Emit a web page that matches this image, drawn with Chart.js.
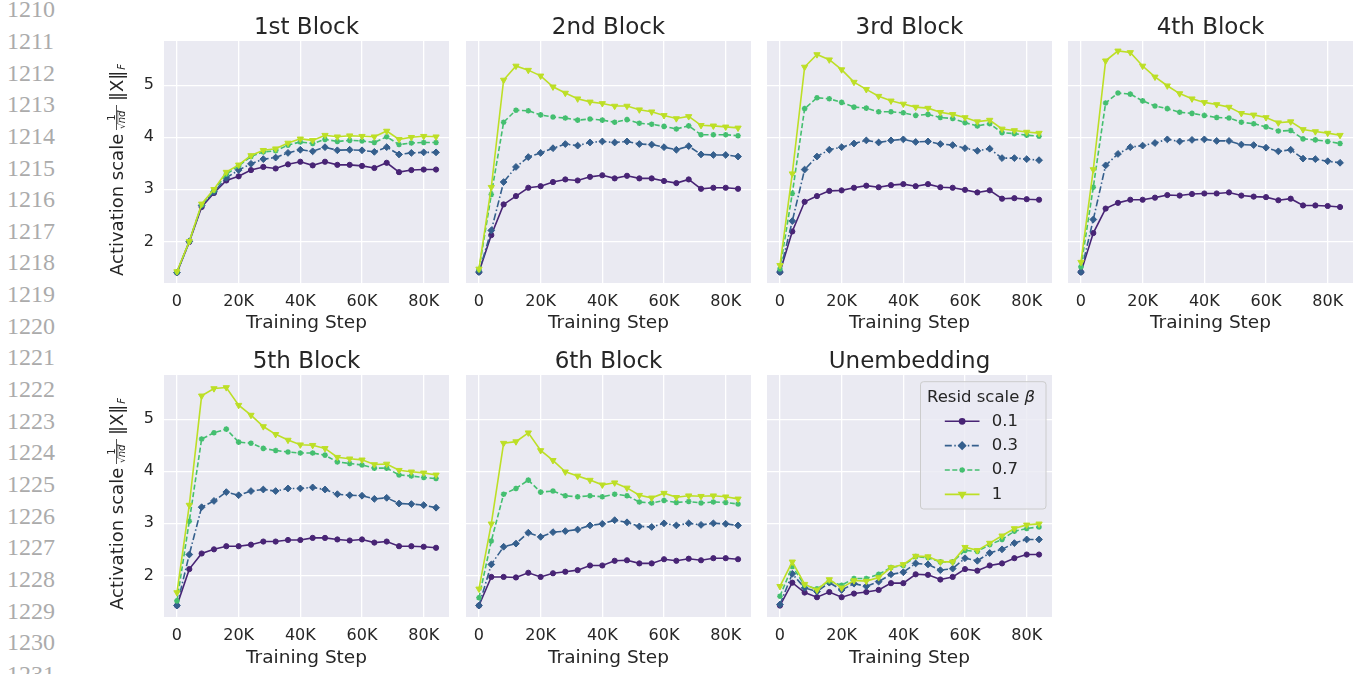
<!DOCTYPE html>
<html>
<head>
<meta charset="utf-8">
<script src="https://cdn.jsdelivr.net/npm/chart.js@4.4.1/dist/chart.umd.min.js"></script>
<style>
  body { margin: 0; background: #fff; width: 1361px; height: 674px; overflow: hidden; position: relative; }
  canvas { position: absolute; }
  .ln { position: absolute; left: 7px; font-family: 'Liberation Serif', serif; font-size: 24px; line-height: 24px; color: #ababab; }
</style>
</head>
<body>
<div id="lineNumbers"></div>
<canvas id="p0"></canvas>
<canvas id="p1"></canvas>
<canvas id="p2"></canvas>
<canvas id="p3"></canvas>
<canvas id="p4"></canvas>
<canvas id="p5"></canvas>
<canvas id="p6"></canvas>
<script>
// training steps (x) and tick labels
const steps = [0, 4000, 8000, 12000, 16000, 20000, 24000, 28000, 32000, 36000, 40000,
               44000, 48000, 52000, 56000, 60000, 64000, 68000, 72000, 76000, 80000, 84000];
const xTickValues = [0, 20000, 40000, 60000, 80000];
const xTickLabels = ['0', '20K', '40K', '60K', '80K'];
const yTickValues = [2, 3, 4, 5];
const betaLabels = ['0.1', '0.3', '0.7', '1'];
const panelTitles = ['1st Block', '2nd Block', '3rd Block', '4th Block', '5th Block', '6th Block', 'Unembedding'];

// activation scale per panel, one row per beta (0.1, 0.3, 0.7, 1)
const block1 = [
  [1.40,1.99,2.66,2.93,3.17,3.25,3.37,3.43,3.40,3.48,3.53,3.46,3.53,3.47,3.47,3.45,3.41,3.51,3.33,3.37,3.38,3.38],
  [1.40,2.00,2.69,2.95,3.22,3.37,3.49,3.58,3.61,3.70,3.76,3.73,3.81,3.75,3.76,3.75,3.72,3.81,3.67,3.70,3.71,3.71],
  [1.41,2.00,2.70,2.98,3.29,3.45,3.63,3.72,3.74,3.85,3.91,3.88,3.96,3.92,3.94,3.93,3.90,4.01,3.86,3.89,3.90,3.90],
  [1.42,2.00,2.72,3.00,3.33,3.47,3.65,3.75,3.78,3.89,3.97,3.94,4.04,4.01,4.03,4.02,4.01,4.12,3.96,4.00,4.02,4.01]
];
const block2 = [
  [1.41,2.12,2.71,2.87,3.03,3.06,3.14,3.19,3.17,3.24,3.27,3.21,3.26,3.21,3.21,3.16,3.12,3.19,3.01,3.03,3.03,3.01],
  [1.41,2.21,3.14,3.43,3.62,3.70,3.79,3.87,3.84,3.90,3.92,3.90,3.92,3.87,3.86,3.81,3.76,3.83,3.67,3.66,3.66,3.63],
  [1.46,2.90,4.29,4.52,4.51,4.43,4.39,4.37,4.33,4.35,4.33,4.29,4.34,4.27,4.25,4.21,4.16,4.22,4.05,4.05,4.05,4.03],
  [1.47,3.04,5.10,5.37,5.29,5.18,4.97,4.85,4.74,4.68,4.65,4.60,4.60,4.53,4.49,4.42,4.36,4.40,4.23,4.22,4.20,4.18]
];
const block3 = [
  [1.41,2.19,2.76,2.87,2.97,2.98,3.03,3.07,3.04,3.08,3.10,3.06,3.10,3.04,3.03,2.99,2.94,2.98,2.82,2.83,2.81,2.80],
  [1.41,2.39,3.38,3.63,3.76,3.81,3.88,3.94,3.90,3.94,3.96,3.91,3.92,3.87,3.85,3.79,3.74,3.78,3.60,3.60,3.58,3.56],
  [1.47,2.92,4.55,4.76,4.74,4.67,4.58,4.56,4.49,4.49,4.47,4.42,4.44,4.38,4.36,4.28,4.22,4.26,4.09,4.07,4.04,4.02],
  [1.54,3.30,5.35,5.59,5.49,5.30,5.06,4.92,4.79,4.70,4.64,4.58,4.56,4.48,4.44,4.38,4.30,4.33,4.16,4.13,4.10,4.08]
];
const block4 = [
  [1.41,2.16,2.63,2.74,2.80,2.80,2.84,2.89,2.88,2.91,2.92,2.92,2.94,2.88,2.86,2.85,2.79,2.82,2.69,2.69,2.68,2.66],
  [1.41,2.42,3.46,3.68,3.81,3.84,3.89,3.96,3.92,3.95,3.96,3.93,3.93,3.86,3.85,3.80,3.73,3.76,3.59,3.58,3.54,3.51],
  [1.51,3.04,4.66,4.85,4.83,4.70,4.60,4.55,4.48,4.46,4.42,4.38,4.37,4.29,4.26,4.20,4.12,4.13,3.97,3.95,3.92,3.88],
  [1.60,3.38,5.47,5.66,5.63,5.37,5.16,4.99,4.84,4.74,4.67,4.63,4.58,4.46,4.43,4.38,4.28,4.30,4.15,4.11,4.08,4.04]
];
const block5 = [
  [1.42,2.12,2.42,2.50,2.56,2.56,2.59,2.65,2.65,2.68,2.68,2.72,2.72,2.69,2.67,2.69,2.63,2.65,2.56,2.56,2.55,2.53],
  [1.42,2.40,3.31,3.43,3.60,3.54,3.62,3.65,3.62,3.67,3.67,3.69,3.65,3.56,3.54,3.53,3.47,3.49,3.38,3.37,3.35,3.30],
  [1.51,3.04,4.62,4.74,4.81,4.56,4.54,4.44,4.40,4.37,4.35,4.35,4.31,4.18,4.15,4.12,4.06,4.06,3.93,3.91,3.88,3.86],
  [1.67,3.35,5.45,5.59,5.61,5.27,5.08,4.86,4.71,4.60,4.51,4.50,4.44,4.27,4.24,4.22,4.13,4.14,4.02,3.99,3.97,3.93]
];
const block6 = [
  [1.42,1.97,1.97,1.96,2.05,1.97,2.04,2.07,2.10,2.19,2.19,2.28,2.29,2.23,2.23,2.31,2.28,2.32,2.29,2.33,2.33,2.31],
  [1.42,2.21,2.55,2.61,2.82,2.74,2.83,2.85,2.88,2.96,2.99,3.06,3.02,2.94,2.93,3.00,2.96,3.00,2.97,3.00,2.99,2.96],
  [1.57,2.66,3.56,3.67,3.83,3.60,3.62,3.53,3.51,3.53,3.51,3.56,3.53,3.41,3.39,3.44,3.40,3.42,3.39,3.41,3.40,3.37],
  [1.74,2.99,4.54,4.57,4.74,4.40,4.21,3.99,3.91,3.83,3.74,3.78,3.68,3.54,3.49,3.58,3.50,3.53,3.52,3.53,3.51,3.47]
];
const unembedding = [
  [1.42,1.86,1.67,1.58,1.68,1.58,1.65,1.68,1.72,1.85,1.85,2.02,2.01,1.92,1.97,2.12,2.09,2.19,2.23,2.33,2.40,2.40],
  [1.44,2.03,1.76,1.69,1.86,1.72,1.84,1.79,1.88,2.02,2.06,2.23,2.21,2.10,2.13,2.33,2.28,2.43,2.50,2.62,2.69,2.69],
  [1.60,2.17,1.81,1.74,1.89,1.81,1.94,1.94,2.02,2.15,2.19,2.36,2.34,2.26,2.26,2.48,2.46,2.59,2.69,2.85,2.90,2.93],
  [1.79,2.26,1.83,1.72,1.92,1.76,1.90,1.89,1.96,2.15,2.21,2.37,2.36,2.26,2.26,2.54,2.48,2.62,2.76,2.90,2.97,2.99]
];
const panelData = [block1, block2, block3, block4, block5, block6, unembedding];

// styles
const TEXT = '#262626';
const FONT = '"DejaVu Sans", sans-serif';
const colors = ['#482475', '#355f8d', '#44bf70', '#bddf26'];
const dashes = [[], [7, 2.5, 1.5, 2.5], [5, 2.5], []];
const markers = ['circle', 'rectRot', 'star', 'triangle'];
const markerSize = [2.6, 3.4, 2.8, 3.6];
const markerRot = [0, 0, 0, 180];

// line numbers of the page margin
const lnDiv = document.getElementById('lineNumbers');
for (let i = 0; i <= 21; i++) {
  const d = document.createElement('div');
  d.className = 'ln';
  d.style.top = (-2.8 + i * 31.66) + 'px';
  d.textContent = String(1210 + i);
  lnDiv.appendChild(d);
}

// layout (page pixels)
const plotLefts = [164, 466, 767, 1068];
const plotW = 285;
const rowTops = [0, 334];
const rowHeights = [334, 340];
const areaTop = 41, areaH = 242;

const bgPlugin = {
  id: 'panelBg',
  beforeDraw(chart) {
    const a = chart.chartArea, ctx = chart.ctx;
    ctx.save();
    ctx.fillStyle = '#eaeaf2';
    ctx.fillRect(a.left, a.top, a.right - a.left, a.bottom - a.top);
    ctx.restore();
  },
  afterDraw(chart, args, opts) {
    const a = chart.chartArea, ctx = chart.ctx;
    ctx.save();
    ctx.fillStyle = TEXT;
    ctx.font = '23px ' + FONT;
    ctx.textAlign = 'center';
    ctx.textBaseline = 'alphabetic';
    ctx.fillText(opts.title, (a.left + a.right) / 2, a.top - 7.5);
    ctx.restore();
    if (opts.yTitle) drawYTitle(chart);
    if (opts.legend) drawLegend(chart);
  }
};

function drawYTitle(chart) {
  const ctx = chart.ctx, a = chart.chartArea;
  const cy = (a.top + a.bottom) / 2;
  ctx.save();
  ctx.translate(23, cy);
  ctx.rotate(-Math.PI / 2);
  ctx.fillStyle = TEXT;
  ctx.strokeStyle = TEXT;
  ctx.textBaseline = 'alphabetic';
  ctx.textAlign = 'left';
  const big = '18px ' + FONT;
  const w1 = 143, wFrac = 29, wTail = 52;
  let x = -(w1 + wFrac + wTail) / 2 - 2;
  ctx.font = big;
  ctx.fillText('Activation scale', x, 0);
  x += w1 + 2;
  // fraction 1 / sqrt(nd)
  const barY = -6.5;
  ctx.lineWidth = 0.8;
  ctx.beginPath(); ctx.moveTo(x + 1, barY); ctx.lineTo(x + wFrac - 3, barY); ctx.stroke();
  ctx.font = '10px ' + FONT;
  ctx.textAlign = 'center';
  ctx.fillText('1', x + wFrac / 2 - 1, barY - 1.5);
  ctx.textAlign = 'left';
  ctx.font = '9px ' + FONT;
  ctx.fillText('\u221A', x + 2, 2);
  const rw = ctx.measureText('\u221A').width;
  ctx.font = 'italic 10px ' + FONT;
  ctx.fillText('nd', x + 2 + rw, 2);
  const nw = ctx.measureText('nd').width;
  ctx.lineWidth = 0.6;
  ctx.beginPath(); ctx.moveTo(x + 2 + rw - 0.5, -5.2); ctx.lineTo(x + 2 + rw + nw, -5.2); ctx.stroke();
  x += wFrac + 1;
  // ||X||_F
  ctx.font = big;
  ctx.fillText('\u2016X\u2016', x, 0);
  x += ctx.measureText('\u2016X\u2016').width + 1;
  ctx.font = 'italic 10px ' + FONT;
  ctx.fillText('F', x, 2);
  ctx.restore();
}

function drawLegend(chart) {
  const ctx = chart.ctx, a = chart.chartArea;
  const bx = a.right - 131.5, by = a.top + 6.7, bw = 125.5, bh = 127.3;
  ctx.save();
  ctx.beginPath();
  ctx.roundRect(bx, by, bw, bh, 3);
  ctx.fillStyle = 'rgba(234,234,242,0.8)';
  ctx.fill();
  ctx.strokeStyle = '#cccccc';
  ctx.lineWidth = 1;
  ctx.stroke();
  ctx.fillStyle = TEXT;
  ctx.textBaseline = 'middle';
  ctx.font = '16.5px ' + FONT;
  ctx.fillText('Resid scale ', bx + 6.5, by + 15.6);
  const tw = ctx.measureText('Resid scale ').width;
  ctx.font = 'italic 16.5px ' + FONT;
  ctx.fillText('\u03B2', bx + 6.5 + tw, by + 15.6);
  for (let i = 0; i < betaLabels.length; i++) {
    const yy = by + 39.6 + i * 24.35;
    const x0 = bx + 24.3, x1 = bx + 59;
    ctx.strokeStyle = colors[i];
    ctx.lineWidth = 1.6;
    ctx.setLineDash(dashes[i]);
    ctx.beginPath(); ctx.moveTo(x0, yy); ctx.lineTo(x1, yy); ctx.stroke();
    ctx.setLineDash([]);
    Chart.helpers.drawPoint(ctx, {
      pointStyle: markers[i], radius: markerSize[i], rotation: markerRot[i], borderWidth: 1
    }, (x0 + x1) / 2, yy);
    ctx.fillStyle = colors[i];
    ctx.fill();
    ctx.fillStyle = TEXT;
    ctx.font = '16.5px ' + FONT;
    ctx.fillText(betaLabels[i], bx + 71.3, yy);
  }
  ctx.restore();
}

panelData.forEach((series, p) => {
  const row = p < 4 ? 0 : 1;
  const col = p % 4;
  const first = col === 0;
  const padL = first ? 64 : 6;
  const padR = first ? 11 : 6;
  const canvasH = rowHeights[row];
  const canvas = document.getElementById('p' + p);
  canvas.width = padL + plotW + padR;
  canvas.height = canvasH;
  canvas.style.left = (plotLefts[col] - padL) + 'px';
  canvas.style.top = rowTops[row] + 'px';
  const xScaleH = canvasH - areaTop - areaH;
  const titleCenter = row === 0 ? 323 : 324;

  createChart(canvas, {
    type: 'line',
    data: {
      datasets: series.map((vals, i) => ({
        label: betaLabels[i],
        data: vals.map((v, k) => ({ x: steps[k], y: v })),
        borderColor: colors[i],
        backgroundColor: colors[i],
        borderWidth: 1.6,
        borderDash: dashes[i],
        pointStyle: markers[i],
        pointRadius: markerSize[i],
        pointRotation: markerRot[i],
        pointBorderWidth: i === 2 ? 1.6 : 1,
        pointBorderColor: colors[i],
        pointBackgroundColor: colors[i],
        tension: 0,
        fill: false,
        order: 3 - i,
        clip: false
      }))
    },
    options: {
      responsive: false,
      animation: false,
      devicePixelRatio: 1,
      layout: { padding: { top: areaTop, right: padR, left: 0, bottom: 0 } },
      plugins: {
        legend: { display: false },
        tooltip: { enabled: false },
        title: { display: false },
        panelBg: { title: panelTitles[p], yTitle: first, legend: p === 6 }
      },
      scales: {
        x: {
          type: 'linear',
          min: -4200,
          max: 88200,
          afterBuildTicks: s => { s.ticks = xTickValues.map(v => ({ value: v })); },
          afterFit: s => { s.height = xScaleH; },
          grid: { color: '#ffffff', lineWidth: 1.3, drawTicks: false },
          border: { display: false },
          ticks: {
            color: TEXT,
            font: { family: FONT, size: 16 },
            padding: 9,
            maxRotation: 0,
            callback: v => xTickLabels[xTickValues.indexOf(v)]
          },
          title: {
            display: true,
            text: 'Training Step',
            color: TEXT,
            font: { family: FONT, size: 18.5 },
            padding: { top: 0, bottom: canvasH - titleCenter - 11 }
          }
        },
        y: {
          type: 'linear',
          min: 1.2,
          max: 5.85,
          afterBuildTicks: s => { s.ticks = yTickValues.map(v => ({ value: v })); },
          afterFit: s => { s.width = padL; },
          grid: { color: '#ffffff', lineWidth: 1.3, drawTicks: false },
          border: { display: false },
          ticks: {
            display: first,
            color: TEXT,
            font: { family: FONT, size: 16 },
            padding: 10,
            callback: v => String(v)
          }
        }
      }
    },
    plugins: [bgPlugin]
  });
});

function createChart(canvas, config) {
  return new Chart(canvas.getContext('2d'), config);
}
</script>
</body>
</html>
